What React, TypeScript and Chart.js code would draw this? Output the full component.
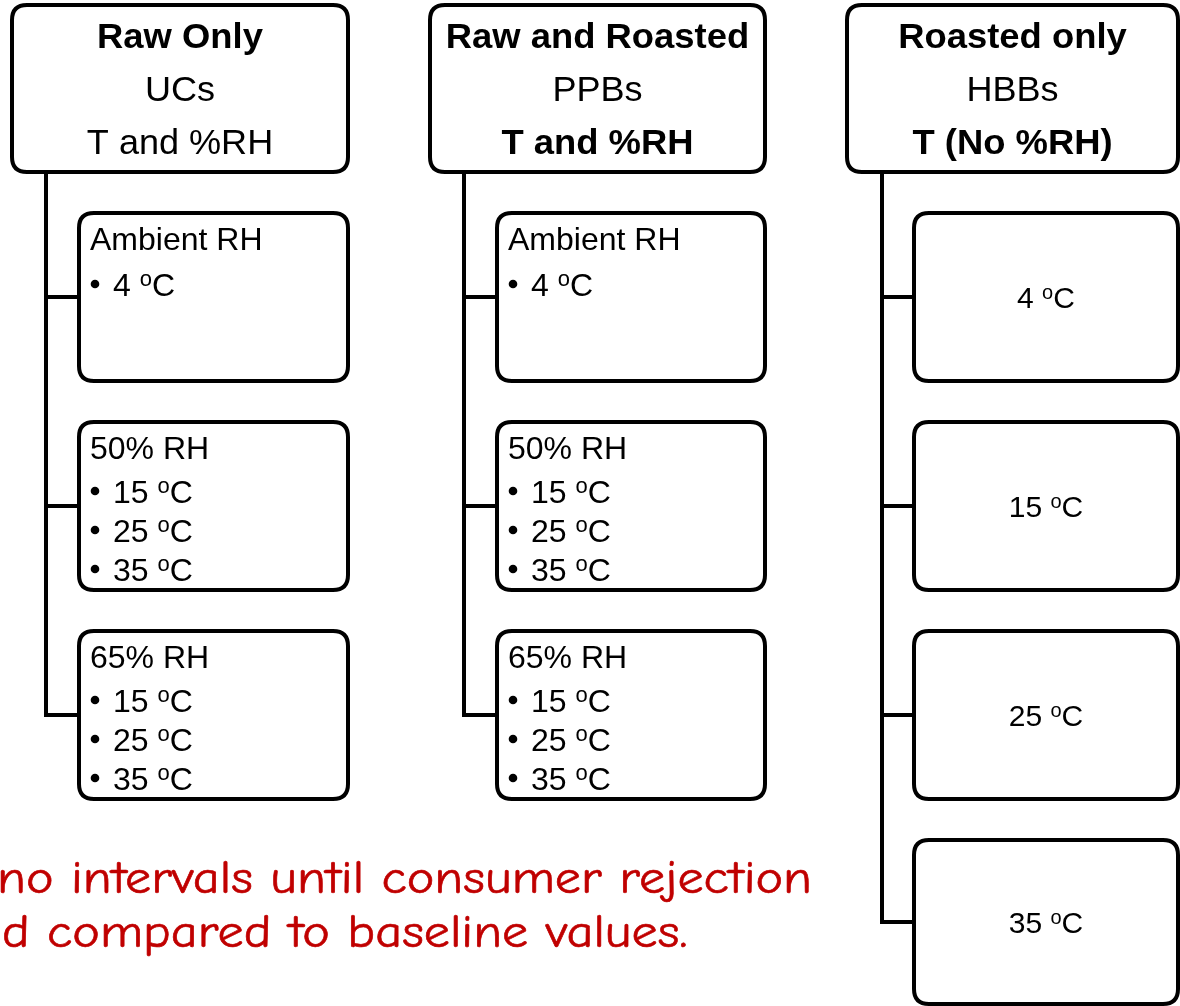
import React, { useEffect, useRef } from "react";
import { Chart, registerables } from "chart.js";

Chart.register(...registerables);

// ---------- data ----------
const columnTitles = ["Raw Only", "Raw and Roasted", "Roasted only"];
const columnProducts = ["UCs", "PPBs", "HBBs"];
const columnFactors = ["T and %RH", "T and %RH", "T (No %RH)"];
const factorBold = [false, true, true];
const rhGroups = ["Ambient RH", "50% RH", "65% RH"];
const rhTemps = [[4], [15, 25, 35], [15, 25, 35]];
const roastedTemps = [4, 15, 25, 35];
const noteLines = [
  "no intervals until consumer rejection",
  "d compared to baseline values.",
];

// ---------- layout (diagram coordinates) ----------
const W = 1180;
const H = 1006;
const L = {
  headerLeft: [12, 430, 847],
  headerRight: [348, 765, 1178],
  headerTop: 5,
  headerBottom: 172,
  headerLineY: [35, 88, 141],
  trunkX: [46, 464, 882],
  boxLeft: [79, 497, 914],
  boxRight: [348, 765, 1178],
  rowTop: [213, 422, 631, 840],
  rowBottom: [381, 590, 799, 1004],
  radius: 15,
  lw: 4,
};

const FONT = '"Liberation Sans", Arial, Helvetica, sans-serif';
const NOTE_FONT = '"Comic Sans MS", "Comic Neue", "Comic Sans", cursive';

function roundRect(ctx: CanvasRenderingContext2D, x0: number, y0: number, x1: number, y1: number, r: number) {
  ctx.beginPath();
  ctx.moveTo(x0 + r, y0);
  ctx.lineTo(x1 - r, y0);
  ctx.quadraticCurveTo(x1, y0, x1, y0 + r);
  ctx.lineTo(x1, y1 - r);
  ctx.quadraticCurveTo(x1, y1, x1 - r, y1);
  ctx.lineTo(x0 + r, y1);
  ctx.quadraticCurveTo(x0, y1, x0, y1 - r);
  ctx.lineTo(x0, y0 + r);
  ctx.quadraticCurveTo(x0, y0, x0 + r, y0);
  ctx.closePath();
}

type Seg = { text: string; size: number; bold?: boolean; raise?: number };

function drawSegs(
  ctx: CanvasRenderingContext2D,
  segs: Seg[],
  x: number,
  cy: number,
  stretch: number,
  align: "left" | "center"
) {
  const main = segs[0].size;
  const baseline = cy + main * 0.36;
  let total = 0;
  const widths = segs.map((s) => {
    ctx.font = `${s.bold ? "bold " : ""}${s.size}px ${FONT}`;
    const w = ctx.measureText(s.text).width * stretch;
    total += w;
    return w;
  });
  let cx = align === "center" ? x - total / 2 : x;
  segs.forEach((s, i) => {
    ctx.font = `${s.bold ? "bold " : ""}${s.size}px ${FONT}`;
    ctx.save();
    ctx.translate(cx, baseline - (s.raise || 0));
    ctx.scale(stretch, 1);
    ctx.textAlign = "left";
    ctx.textBaseline = "alphabetic";
    ctx.fillText(s.text, 0, 0);
    ctx.restore();
    cx += widths[i];
  });
}

function tempSegs(t: number, size: number): Seg[] {
  return [
    { text: `${t} `, size },
    { text: "o", size: Math.round(size * 0.68), raise: size * 0.3 },
    { text: "C", size },
  ];
}

const diagramPlugin = {
  id: "diagram",
  afterDraw(chart: any) {
    const ctx: CanvasRenderingContext2D = chart.ctx;
    const px = (v: number) => chart.scales.x.getPixelForValue(v);
    const py = (v: number) => chart.scales.y.getPixelForValue(v);
    ctx.save();
    ctx.lineWidth = L.lw;
    ctx.strokeStyle = "#000";
    ctx.lineJoin = "miter";
    ctx.lineCap = "butt";

    columnTitles.forEach((title, c) => {
      const nRows = c === 2 ? roastedTemps.length : rhGroups.length;
      const mids = Array.from({ length: nRows }, (_, r) => (L.rowTop[r] + L.rowBottom[r]) / 2);
      // trunk + connectors
      ctx.beginPath();
      ctx.moveTo(px(L.trunkX[c]), py(L.headerBottom));
      ctx.lineTo(px(L.trunkX[c]), py(mids[nRows - 1]));
      ctx.lineTo(px(L.boxLeft[c]), py(mids[nRows - 1]));
      ctx.stroke();
      mids.slice(0, -1).forEach((m) => {
        ctx.beginPath();
        ctx.moveTo(px(L.trunkX[c]), py(m));
        ctx.lineTo(px(L.boxLeft[c]), py(m));
        ctx.stroke();
      });

      // header box
      roundRect(ctx, px(L.headerLeft[c]), py(L.headerTop), px(L.headerRight[c]), py(L.headerBottom), L.radius);
      ctx.fillStyle = "#fff";
      ctx.fill();
      ctx.stroke();
      ctx.fillStyle = "#000";
      const hc = (px(L.headerLeft[c]) + px(L.headerRight[c])) / 2;
      drawSegs(ctx, [{ text: title, size: 35, bold: true }], hc, py(L.headerLineY[0]), 1.04, "center");
      drawSegs(ctx, [{ text: columnProducts[c], size: 35 }], hc, py(L.headerLineY[1]), 1.03, "center");
      drawSegs(
        ctx,
        [{ text: columnFactors[c], size: 35, bold: factorBold[c] }],
        hc,
        py(L.headerLineY[2]),
        factorBold[c] ? 1.04 : 1.03,
        "center"
      );

      // sub boxes
      for (let r = 0; r < nRows; r++) {
        const x0 = px(L.boxLeft[c]);
        const x1 = px(L.boxRight[c]);
        const y0 = py(L.rowTop[r]);
        const y1 = py(L.rowBottom[r]);
        roundRect(ctx, x0, y0, x1, y1, L.radius);
        ctx.fillStyle = "#fff";
        ctx.fill();
        ctx.stroke();
        ctx.fillStyle = "#000";
        if (c === 2) {
          drawSegs(ctx, tempSegs(roastedTemps[r], 30), (x0 + x1) / 2, (y0 + y1) / 2, 1.0, "center");
        } else {
          drawSegs(ctx, [{ text: rhGroups[r], size: 32 }], x0 + 11, y0 + 25, 1.0, "left");
          const temps = rhTemps[r];
          const offs = temps.length === 1 ? [71] : [69, 108, 147];
          temps.forEach((t, i) => {
            const cy = y0 + offs[i];
            ctx.beginPath();
            ctx.arc(x0 + 16, cy, 4.3, 0, Math.PI * 2);
            ctx.fill();
            drawSegs(ctx, tempSegs(t, 32), x0 + 34, cy, 1.0, "left");
          });
        }
      }
    });

    // red note
    ctx.fillStyle = "#C00000";
    ctx.strokeStyle = "#C00000";
    ctx.lineWidth = 0.6;
    ctx.textAlign = "left";
    ctx.textBaseline = "alphabetic";
    const size = 46;
    ctx.font = `${size}px ${NOTE_FONT}`;
    const w1 = ctx.measureText(noteLines[0]).width;
    const stretch = 815 / w1;
    const drawNote = (t: string, x: number, y: number) => {
      ctx.save();
      ctx.translate(x, y);
      ctx.scale(stretch, 1);
      ctx.fillText(t, 0, 0);
      ctx.strokeText(t, 0, 0);
      ctx.restore();
    };
    drawNote(noteLines[0], px(-3), py(893));
    drawNote(noteLines[1], px(2), py(947));
    ctx.restore();
  },
};

export default function App() {
  const ref = useRef<HTMLCanvasElement>(null);
  useEffect(() => {
    document.body.style.margin = "0";
    const canvas = ref.current!;
    const chart = new Chart(canvas, {
      type: "scatter",
      data: { datasets: [{ data: [], pointRadius: 0 }] },
      options: {
        animation: false,
        responsive: false,
        devicePixelRatio: 1,
        layout: { padding: 0 },
        plugins: { legend: { display: false }, tooltip: { enabled: false } },
        scales: {
          x: { type: "linear", min: 0, max: W, display: false },
          y: { type: "linear", min: 0, max: H, reverse: true, display: false },
        },
      },
      plugins: [diagramPlugin],
    });
    return () => chart.destroy();
  }, []);
  return <canvas ref={ref} width={W} height={H} style={{ display: "block" }} />;
}
